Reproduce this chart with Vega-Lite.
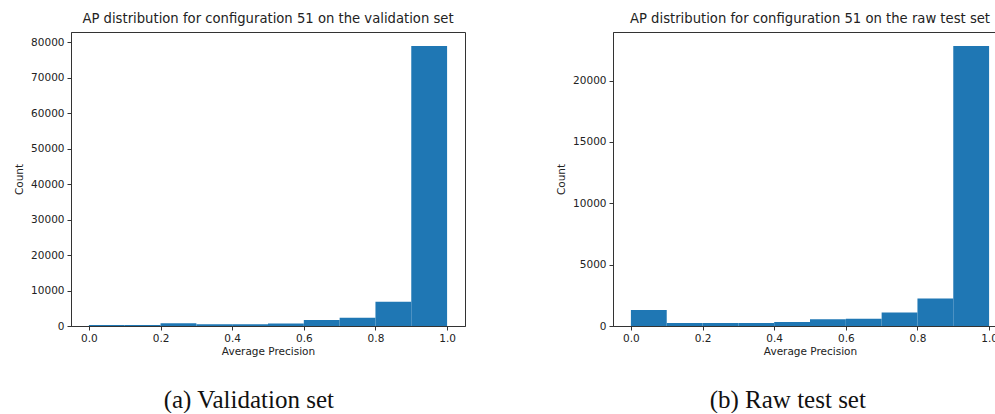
{
  "$schema": "https://vega.github.io/schema/vega-lite/v6.json",
  "padding": {"left": 14, "top": 11, "right": 0, "bottom": 0},
  "spacing": 90,
  "background": "white",
  "datasets": {
    "val": [
      {"lo": 0.0, "hi": 0.1, "count": 300},
      {"lo": 0.1, "hi": 0.2, "count": 300},
      {"lo": 0.2, "hi": 0.3, "count": 780},
      {"lo": 0.3, "hi": 0.4, "count": 500},
      {"lo": 0.4, "hi": 0.5, "count": 520},
      {"lo": 0.5, "hi": 0.6, "count": 720},
      {"lo": 0.6, "hi": 0.7, "count": 1700},
      {"lo": 0.7, "hi": 0.8, "count": 2350},
      {"lo": 0.8, "hi": 0.9, "count": 6870},
      {"lo": 0.9, "hi": 1.0, "count": 79000}
    ],
    "test": [
      {"lo": 0.0, "hi": 0.1, "count": 1300},
      {"lo": 0.1, "hi": 0.2, "count": 250},
      {"lo": 0.2, "hi": 0.3, "count": 250},
      {"lo": 0.3, "hi": 0.4, "count": 250},
      {"lo": 0.4, "hi": 0.5, "count": 330},
      {"lo": 0.5, "hi": 0.6, "count": 540},
      {"lo": 0.6, "hi": 0.7, "count": 600},
      {"lo": 0.7, "hi": 0.8, "count": 1110},
      {"lo": 0.8, "hi": 0.9, "count": 2250},
      {"lo": 0.9, "hi": 1.0, "count": 22820}
    ]
  },
  "hconcat": [
    {
      "title": {"text": "(a) Validation set", "orient": "bottom", "font": "Liberation Serif", "fontSize": 25, "fontWeight": "normal", "color": "#111", "offset": 30, "anchor": "middle", "frame": "bounds", "dx": 9},
      "vconcat": [
        {
          "title": "AP distribution for configuration 51 on the validation set",
          "width": 394,
          "height": 294,
          "data": {"name": "val"},
          "mark": {"type": "rect", "color": "#1f77b4"},
          "encoding": {
            "x": {"field": "lo", "type": "quantitative", "scale": {"domain": [-0.05, 1.05], "nice": false, "zero": false}, "axis": {"title": "Average Precision", "values": [0, 0.2, 0.4, 0.6, 0.8, 1.0], "format": ".1f"}},
            "x2": {"field": "hi"},
            "y": {"field": "count", "type": "quantitative", "scale": {"domain": [0, 82950], "nice": false}, "axis": {"title": "Count", "values": [0, 10000, 20000, 30000, 40000, 50000, 60000, 70000, 80000], "format": "d"}},
            "y2": {"datum": 0}
          }
        }
      ]
    },
    {
      "title": {"text": "(b) Raw test set", "orient": "bottom", "font": "Liberation Serif", "fontSize": 25, "fontWeight": "normal", "color": "#111", "offset": 30, "anchor": "middle", "frame": "bounds", "dx": 6},
      "vconcat": [
        {
          "title": "AP distribution for configuration 51 on the raw test set",
          "width": 394,
          "height": 294,
          "data": {"name": "test"},
          "mark": {"type": "rect", "color": "#1f77b4"},
          "encoding": {
            "x": {"field": "lo", "type": "quantitative", "scale": {"domain": [-0.05, 1.05], "nice": false, "zero": false}, "axis": {"title": "Average Precision", "values": [0, 0.2, 0.4, 0.6, 0.8, 1.0], "format": ".1f"}},
            "x2": {"field": "hi"},
            "y": {"field": "count", "type": "quantitative", "scale": {"domain": [0, 23960], "nice": false}, "axis": {"title": "Count", "values": [0, 5000, 10000, 15000, 20000], "format": "d"}},
            "y2": {"datum": 0}
          }
        }
      ]
    }
  ],
  "config": {
    "font": "DejaVu Sans",
    "view": {"stroke": "#333", "strokeWidth": 1},
    "title": {"font": "DejaVu Sans", "fontSize": 13.2, "fontWeight": "normal", "color": "#222", "offset": 6},
    "axis": {
      "grid": false,
      "labelFont": "DejaVu Sans",
      "labelFontSize": 10.5,
      "labelColor": "#222",
      "labelPadding": 3,
      "tickSize": 4,
      "tickColor": "#333",
      "domainColor": "#333",
      "titleFont": "DejaVu Sans",
      "titleFontSize": 10.5,
      "titleFontWeight": "normal",
      "titleColor": "#222"
    },
    "axisY": {"titlePadding": 6},
    "axisX": {"titlePadding": 3, "labelFlush": false}
  }
}
